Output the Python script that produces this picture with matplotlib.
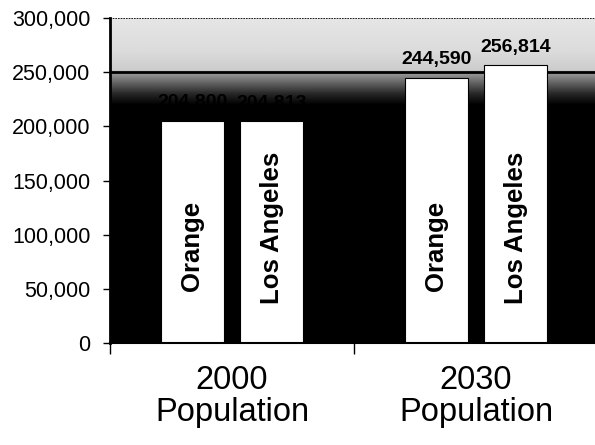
import numpy as np
import matplotlib.pyplot as plt
from matplotlib.ticker import FuncFormatter
from matplotlib.colors import LinearSegmentedColormap

# dados
grupos = ['2000\nPopulation', '2030\nPopulation']
condados = ['Orange', 'Los Angeles']
pop_orange = [204800, 244590]
pop_la = [204813, 256814]
rotulos_orange = ['204,800', '244,590']
rotulos_la = ['204,813', '256,814']

plt.rcParams['font.family'] = ['Liberation Sans', 'DejaVu Sans']

fig = plt.figure(figsize=(5.95, 4.45), dpi=100)
ax = fig.add_axes([110 / 595, 102 / 445, 488 / 595, 325 / 445])
ax.set_xlim(0, 2)
ax.set_ylim(0, 300000)

# fundo em degradê (claro em cima, preto embaixo)
ys = np.linspace(0, 300000, 600)
nivel = np.interp(ys, [0, 220000, 230000, 240000, 249000, 252000, 270000, 300000],
                  [0.0, 0.0, 0.15, 0.38, 0.6, 0.8, 0.86, 0.9])
cmap = LinearSegmentedColormap.from_list('cinza', ['black', 'white'])
ax.imshow(nivel[:, None], aspect='auto', cmap=cmap, vmin=0, vmax=1,
          extent=[0, 2, 0, 300000], origin='lower', zorder=0,
          interpolation='bilinear')

# linha de grade e borda superior
ax.axhline(250000, color='black', lw=2, zorder=1)
ax.axhline(300000, color='black', lw=1.2, ls=(0, (1, 0.6)), zorder=1)

# barras
centros = np.arange(len(grupos)) + 0.5
larg = 0.258
desloc = 0.163
x_or = centros - desloc
x_la = centros + desloc
ax.bar(x_or, pop_orange, width=larg, color='white', edgecolor='black', lw=0.8, zorder=2)
ax.bar(x_la, pop_la, width=larg, color='white', edgecolor='black', lw=0.8, zorder=2)

for i in range(len(grupos)):
    ax.text(x_or[i], 90000, condados[0], rotation=90, ha='center', va='center',
            fontsize=18.5, fontweight='bold', zorder=3)
    ax.text(x_la[i], 106000, condados[1], rotation=90, ha='center', va='center',
            fontsize=18.5, fontweight='bold', zorder=3)
    ax.text(x_or[i], pop_orange[i] + 9000, rotulos_orange[i], ha='center', va='bottom',
            fontsize=14, fontweight='bold', zorder=3)
    ax.text(x_la[i], pop_la[i] + 8000, rotulos_la[i], ha='center', va='bottom',
            fontsize=14, fontweight='bold', zorder=3)

# eixos
ax.set_yticks(np.arange(0, 300001, 50000))
ax.yaxis.set_major_formatter(FuncFormatter(lambda v, p: f'{int(v):,}'))
ax.tick_params(axis='y', labelsize=15.5, length=5, width=1, pad=9)
ax.set_xticks(centros)
ax.set_xticklabels(grupos, fontsize=23.5, linespacing=1.05)
ax.tick_params(axis='x', length=0, pad=16)
ax.set_xticks([0, 1, 2], minor=True)
ax.tick_params(axis='x', which='minor', length=8, width=1)

for s in ['top', 'right']:
    ax.spines[s].set_visible(False)
ax.spines['left'].set_linewidth(2)
ax.spines['bottom'].set_linewidth(1.5)

fig.savefig('out.png', dpi=100)
